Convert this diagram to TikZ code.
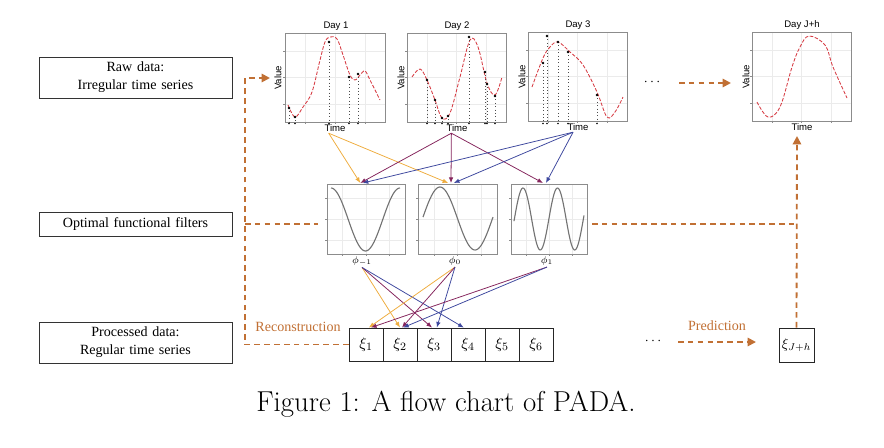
\documentclass[tikz,border=0pt]{standalone}
\usepackage{fontspec}
\newfontfamily\boxfont{Liberation Serif}
\newfontfamily\plotfont{Liberation Sans}
\usetikzlibrary{arrows.meta,calc}
\usetikzlibrary{positioning}

\definecolor{brn}{RGB}{193,112,52}
\definecolor{yel}{RGB}{238,172,62}
\definecolor{pur}{RGB}{132,36,92}
\definecolor{blu}{RGB}{62,72,158}
\definecolor{crv}{RGB}{214,58,66}

\newcommand\plotframe[4]{% left, top, right, bottom
  \foreach \f in {0.2,0.5,0.8}{
    \draw[gridline] ({#1+\f*(#3-#1)},#2) -- ({#1+\f*(#3-#1)},#4);
    \draw[gridline] (#1,{#2+\f*(#4-#2)}) -- (#3,{#2+\f*(#4-#2)});
    \draw[tickline] ({#1+\f*(#3-#1)},#4) -- ++(0,2);
    \draw[tickline] (#1,{#2+\f*(#4-#2)}) -- ++(-2,0);
  }
  \draw[frameline] (#1,#2) rectangle (#3,#4);
}

\tikzset{
    %Define standard arrow tip
    >={Latex[length=4pt,width=3.2pt]},
    % dashed flow lines
    flow/.style={brn, line width=1.3pt, dash pattern=on 4pt off 3pt},
    flowarr/.style={flow, -{Triangle[length=6pt,width=6pt]}},
    % filter arrows
    pil/.style={->, line width=0.55pt},
    labelbox/.style={draw=black!80, line width=0.6pt, minimum width=4.825cm,
           text width=4.6cm, align=center, inner sep=0pt,
           font=\boxfont\fontsize{10}{12.8}\selectfont},
    xicell/.style={draw=black!85, line width=0.6pt, minimum width=0.85cm,
           minimum height=0.825cm, inner sep=0pt,
           font=\fontsize{11}{13}\selectfont},
    note/.style={brn, font=\boxfont\fontsize{10}{12}\selectfont},
    plottext/.style={font=\plotfont\fontsize{6.8}{8}\selectfont, inner sep=1pt},
    gridline/.style={black!8, line width=0.4pt},
    tickline/.style={black!45, line width=0.4pt},
    frameline/.style={black!45, line width=0.5pt},
    curve/.style={crv, line width=0.6pt, dash pattern=on 2.5pt off 1.2pt},
    wave/.style={black!55, line width=0.8pt},
    obs/.style={black!70, line width=0.4pt, dotted}
}

\begin{document}
\begin{tikzpicture}[x=0.025cm, y=-0.025cm]
  \useasboundingbox (0,0) rectangle (884,448);

  % left boxes
  \node (raw) at (135.5,77.5) [labelbox, minimum height=1.025cm] {Raw data:\\Irregular time series};
  \node (filt) at (135.5,224) [labelbox, minimum height=0.6cm] {Optimal functional filters};
  \node (proc) at (135.5,342.5) [labelbox, minimum height=1.025cm] {Processed data:\\Regular time series};

  % daily panels
  \plotframe{285}{33}{385}{122}
  \plotframe{407}{33}{506}{122}
  \plotframe{528}{32}{627}{121}
  \plotframe{752}{32}{851}{121}
  \node (d1) at (336,26) [plottext] {Day 1};
  \node (d2) at (457,26) [plottext] {Day 2};
  \node (d3) at (578,25) [plottext] {Day 3};
  \node (d4) at (802,25) [plottext] {Day J+h};
  \node (v1) at (278,78) [plottext, rotate=90] {Value};
  \node (v2) at (401,78) [plottext, rotate=90] {Value};
  \node (v3) at (522,77) [plottext, rotate=90] {Value};
  \node (v4) at (746,77) [plottext, rotate=90] {Value};
  \node (t1) at (335,128) [plottext] {Time};
  \node (t2) at (457,128) [plottext] {Time};
  \node (t3) at (578,127) [plottext] {Time};
  \node (t4) at (802,127) [plottext] {Time};

  \draw[curve] plot[smooth, tension=0.6] coordinates {(288,105) (295,117) (303,107) (312,92) (320,60)
      (325,42) (330,37) (337,39) (343,55) (350,75) (355,80) (360,75) (365,71) (370,80) (380,100)};
  \draw[curve] plot[smooth, tension=0.6] coordinates {(412,77) (420,69) (427,80) (435,100) (442,118)
      (450,113) (460,77) (470,40) (478,47) (487,83) (495,95) (502,77)};
  \draw[curve] plot[smooth, tension=0.6] coordinates {(532,87) (543,58) (550,47) (558,42) (570,52)
      (583,65) (597,92) (607,117) (615,112) (623,97)};
  \draw[curve] plot[smooth, tension=0.6] coordinates {(757,102) (768,117) (780,107) (792,67) (800,47)
      (809,36) (825,45) (833,67) (847,98)};

  % observations
  \foreach \px/\py in {289/108,295/117,329/42,349/77,358/74,
                       427/80,435/100,442/118,448/116,469/37,485/72,487/84,495/96,
                       543/63,547/36,558/42,568/52,597/95}{
    \draw[obs] (\px,\py) -- (\px,122);
    \fill (\px,\py) circle (0.9pt);
    \fill (\px,123.5) circle (0.6pt);
  }

  % filter panels
  \plotframe{327}{184}{405}{254}
  \plotframe{418}{184}{497}{254}
  \plotframe{511}{184}{587}{254}
  \draw[wave] plot[domain=331:400, samples=60] (\x, {219.5-31.5*cos((\x-331)/69*360)});
  \draw[wave] plot[domain=423:493, samples=60] (\x, {218.5-31.5*cos((\x-440)/70*360)});
  \draw[wave] plot[domain=514:584, samples=90] (\x, {219-31*cos((\x-523)/34.5*360)});
  \node (ph1) at (362,261) [plottext] {$\phi_{-1}$};
  \node (ph2) at (455,261) [plottext] {$\phi_{0}$};
  \node (ph3) at (547,261) [plottext] {$\phi_{1}$};

  \coordinate (f1) at (361,183);
  \coordinate (f2) at (451,183);
  \coordinate (f3) at (544,183);
  \draw[pil,yel] ([xshift=-4.5pt]t1.south) -- ([xshift=-0.5pt]f1);
  \draw[pil,yel] ([xshift=-4.5pt]t1.south) -- ([xshift=-2pt]f2);
  \draw[pil,pur] ([xshift=-4pt]t2.south) -- ([xshift=-0.5pt]f1);
  \draw[pil,pur] ([xshift=-4pt]t2.south) -- (f2);
  \draw[pil,pur] ([xshift=-4pt]t2.south) -- ([xshift=-0.7pt]f3);
  \draw[pil,blu] ([xshift=-3.5pt]t3.south) -- ([xshift=1.2pt]f1);
  \draw[pil,blu] ([xshift=-3.5pt]t3.south) -- ([xshift=2pt]f2);
  \draw[pil,blu] ([xshift=-3.5pt]t3.south) -- ([xshift=1.4pt]f3);

  % processed series
  \foreach \i/\xc in {1/366,2/400,3/434,4/468,5/502,6/536}
    \node (x\i) at (\xc,344.5) [xicell] {$\xi_{\i}$};
  \node (xJ) at (796.5,345) [xicell, minimum width=0.875cm, minimum height=0.85cm,
      font=\fontsize{10}{12}\selectfont] {$\xi_{J+h}$};

  \draw[pil,yel] (ph1.south) -- (x2.north);
  \draw[pil,pur] (ph1.south) -- ([xshift=-1.4pt]x3.north);
  \draw[pil,blu] (ph1.south) -- ([xshift=-3pt]x4.north);
  \draw[pil,yel] (ph2.south) -- ([xshift=2pt]x1.north);
  \draw[pil,pur] (ph2.south) -- ([xshift=1.4pt]x2.north);
  \draw[pil,blu] (ph2.south) -- ([xshift=2pt]x3.north);
  \draw[pil,pur] (ph3.south) -- ([xshift=3.5pt]x1.north);
  \draw[pil,blu] (ph3.south) -- ([xshift=2.2pt]x2.north);

  % dashed flow
  \coordinate (lc) at (245,78);
  \coordinate (lin) at (270,78);
  \coordinate (fin) at (318,224);
  \coordinate (fout) at (592,224);
  \coordinate (rc) at (797,224);
  \coordinate (dJ) at (797,136);
  \draw[flowarr] (x1.west) -| (lc) -- (lin);
  \draw[flow] (lc |- filt.east) -- (fin);
  \draw[flow] (fout) -- (rc);
  \draw[flowarr] (xJ.north) -- (dJ);

  \node (dots1) at (652,82) {$\cdots$};
  \coordinate (a1) at (679,83);
  \coordinate (b1) at (731,83);
  \draw[flowarr] (a1) -- (b1);
  \node (dots2) at (653,341) {$\cdots$};
  \coordinate (a2) at (678,342);
  \coordinate (b2) at (756,342);
  \draw[flowarr] (a2) -- (b2);
  \node (recon) at (298,327) [note] {Reconstruction};
  \node (pred) at (717,326) [note] {Prediction};

  \node (cap) at (446,404) [font=\fontsize{20.5}{24}\selectfont] {Figure 1: A flow chart of PADA.};
\end{tikzpicture}
\end{document}
